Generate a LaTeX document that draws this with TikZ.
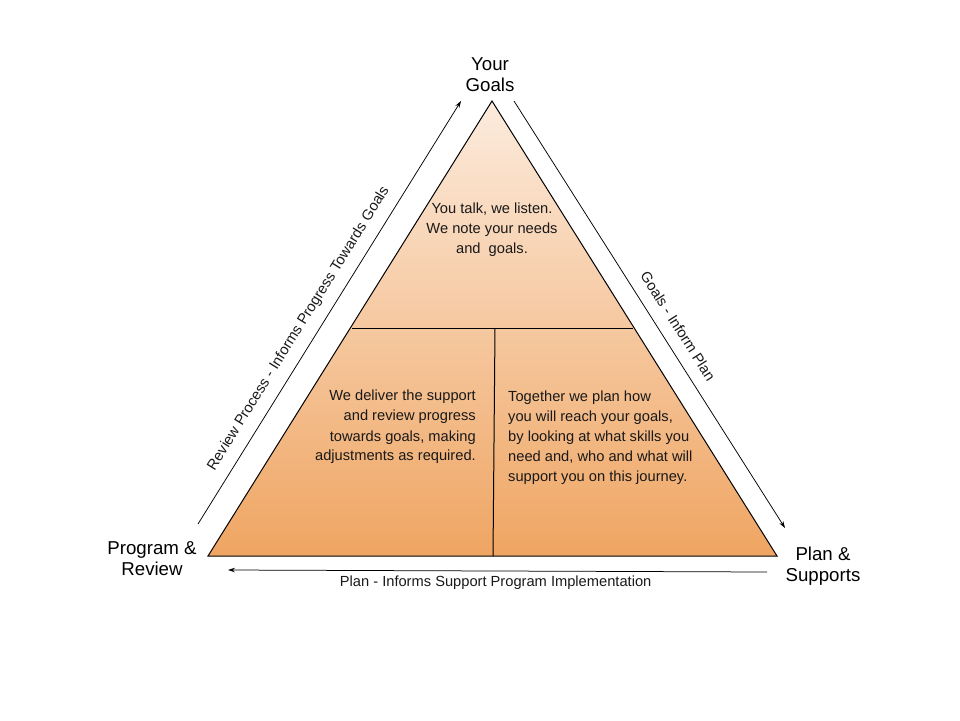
\documentclass[tikz,border=0pt]{standalone}
\usepackage{fontspec}
\setmainfont{Liberation Sans}
\usetikzlibrary{arrows.meta}
\definecolor{topc}{HTML}{FCEBDD}
\definecolor{botc}{HTML}{EFA562}
\newcommand\dgbody{\fontsize{14.67}{20}\selectfont}
\newcommand\dgbig{\fontsize{18.67}{21}\selectfont}
\begin{document}
\begin{tikzpicture}[x=1pt,y=-1pt,
  outline/.style={draw=black, line width=1pt, line join=miter},
  divider/.style={draw=black, line width=1pt},
  flow/.style={draw=black, line width=0.75pt, -{Stealth[length=7pt,width=4.5pt]}},
  body/.style={font=\dgbody, inner sep=0pt, text=black!90},
  corner/.style={font=\dgbig, inner sep=0pt, align=center},
  flowlabel/.style={font=\dgbody, text=black!90}]
\useasboundingbox (0,0) rectangle (960,720);
% triangle
\coordinate (apex) at (492,101);
\coordinate (bl) at (208,556);
\coordinate (br) at (777,556);
\coordinate (ml) at (352,328);
\coordinate (mr) at (633,328);
\coordinate (dt) at (495,328);
\coordinate (db) at (493,556);
\shade[top color=topc, bottom color=botc] (apex) -- (br) -- (bl) -- cycle;
\draw[outline] (apex) -- (br) -- (bl) -- cycle;
\draw[divider] (ml) -- (mr);
\draw[divider] (dt) -- (db);
% corner labels
\node[corner] (goals) at (490,74.7) {Your\\Goals};
\node[corner] (program) at (152,558.7) {Program \&\\Review};
\node[corner] (plan) at (823,565.7) {Plan \&\\Supports};
% block texts
\node[body, align=center] (listen) at (492,230.2) {You talk, we listen.\\We note your needs\\and\ \ goals.};
\node[body, align=right, anchor=east] (deliver) at (476,427.2) {We deliver the support\\and review progress\\towards goals, making\\adjustments as required.};
\node[body, align=left, anchor=west] (together) at (508,437.2) {Together we plan how\\you will reach your goals,\\by looking at what skills you\\need and, who and what will\\support you on this journey.};
% flow arrows
\coordinate (l1) at (198,524);
\coordinate (l2) at (461,101);
\coordinate (r1) at (514,101);
\coordinate (r2) at (785,528);
\coordinate (b1) at (767,572);
\coordinate (b2) at (228,570);
\draw[flow] (l1) -- node[flowlabel, sloped, above, pos=0.44, inner sep=10.5pt] (review) {Review Process - Informs Progress Towards Goals} (l2);
\draw[flow] (r1) -- node[flowlabel, sloped, above, pos=0.55, inner sep=12pt] (inform) {Goals - Inform Plan} (r2);
\draw[flow] (b1) -- node[flowlabel, below, pos=0.5035, inner sep=4.3pt] (support) {Plan - Informs Support Program Implementation} (b2);
\end{tikzpicture}
\end{document}
